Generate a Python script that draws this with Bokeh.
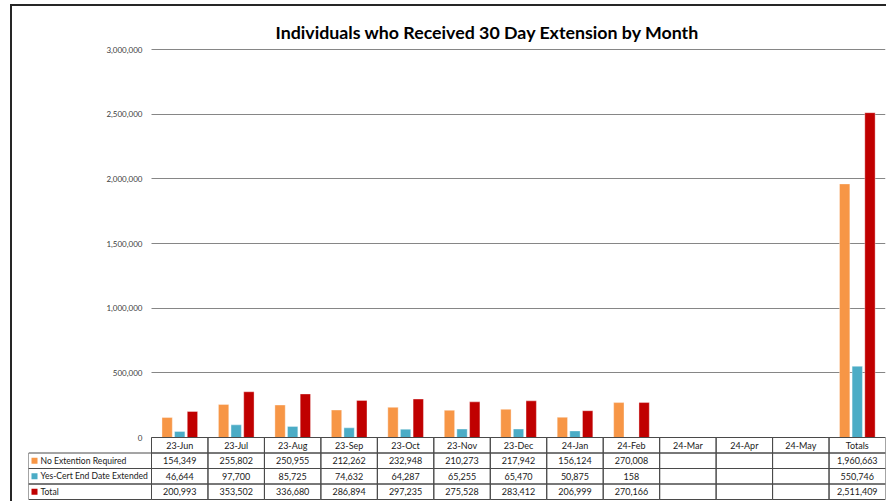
import numpy as np
from bokeh.plotting import figure
from bokeh.models import (Range1d, FixedTicker, NumeralTickFormatter,
                          ColumnDataSource, Column)
from bokeh.transform import dodge
from bokeh.core.properties import value
from bokeh.embed import file_html
from bokeh.resources import INLINE

# ---------------- data ----------------
months = ["23-Jun", "23-Jul", "23-Aug", "23-Sep", "23-Oct", "23-Nov", "23-Dec",
          "24-Jan", "24-Feb", "24-Mar", "24-Apr", "24-May", "Totals"]
no_extension = [154349, 255802, 250955, 212262, 232948, 210273, 217942,
                156124, 270008, None, None, None, 1960663]
yes_cert = [46644, 97700, 85725, 74632, 64287, 65255, 65470,
            50875, 158, None, None, None, 550746]
total = [200993, 353502, 336680, 286894, 297235, 275528, 283412,
         206999, 270166, None, None, None, 2511409]
series_names = ["No Extention Required", "Yes-Cert End Date Extended", "Total"]
series_colors = ["#F79646", "#4BACC6", "#C00000"]
y_ticks = [0, 500000, 1000000, 1500000, 2000000, 2500000, 3000000]
y_max = 3000000
title_text = "Individuals who Received 30 Day Extension by Month"

# ---------------- layout constants (page pixels) ----------------
FONT = "Lato"
LINE = "#4a4a4a"
ORG_X, ORG_Y = 12, 6            # content origin after the outer frame border
FRAME_L, FRAME_R = 28, 885      # plot frame (table incl. legend column)
FRAME_T, FRAME_B = 48, 500
CAT_L = 151                     # first category column left edge
ZERO_Y = 437                    # value 0 / table top
ROW_PX = 15.5                   # table row height
VAL_PX = 388.0 / y_max          # px per unit value

W = 874
H = FRAME_B + 1 - ORG_Y
n = len(months)
UNIT_PX = (FRAME_R - CAT_L) / float(n)
LEG_UNITS = (CAT_L - FRAME_L) / UNIT_PX

y_lo = -(FRAME_B - ZERO_Y) / VAL_PX
y_hi = (ZERO_Y - FRAME_T) / VAL_PX
t_lo = (FRAME_B - ZERO_Y) / ROW_PX      # table row coordinate at frame bottom
t_hi = -(ZERO_Y - FRAME_T) / ROW_PX     # table row coordinate at frame top

p = figure(width=W, height=H,
           x_range=Range1d(-0.5 - LEG_UNITS, n - 0.5),
           y_range=Range1d(y_lo, y_hi),
           output_backend="svg", toolbar_location=None, x_axis_location=None,
           min_border_left=FRAME_L - ORG_X, min_border_right=ORG_X + W - FRAME_R,
           min_border_top=FRAME_T - ORG_Y, min_border_bottom=ORG_Y + H - FRAME_B)
p.extra_y_ranges = {"table": Range1d(start=t_lo, end=t_hi)}
p.outline_line_color = None

# ---------------- bars ----------------
src = ColumnDataSource(dict(
    idx=np.arange(n),
    s0=np.array(no_extension, dtype=float),
    s1=np.array(yes_cert, dtype=float),
    s2=np.array(total, dtype=float),
))
offsets = [-0.223, 0.0, 0.225]
for k in range(3):
    p.vbar(x=dodge("idx", offsets[k]), top="s%d" % k, bottom=0,
           width=0.183, source=src, fill_color=series_colors[k],
           line_color="white", line_width=0.6, line_alpha=0.6)

# ---------------- value axis & grid ----------------
p.yaxis.ticker = FixedTicker(ticks=y_ticks)
p.yaxis.formatter = NumeralTickFormatter(format="0,0")
p.yaxis.axis_line_color = None
p.yaxis.major_tick_line_color = None
p.yaxis.minor_tick_line_color = None
p.yaxis.major_tick_out = 0
p.yaxis.major_tick_in = 0
p.yaxis.major_label_standoff = -(CAT_L - 9 - FRAME_L)
p.yaxis.major_label_text_font = FONT
p.yaxis.major_label_text_font_size = "8px"
p.yaxis.major_label_text_color = "#404040"
p.ygrid.ticker = FixedTicker(ticks=y_ticks)
p.ygrid.grid_line_color = "#868686"
p.ygrid.grid_line_width = 1
p.ygrid.cross_bounds = (-0.5, n - 0.5)
p.xgrid.grid_line_color = None

# ---------------- title ----------------
p.title.text = title_text
p.title.align = "left"
p.title.offset = 275 - FRAME_L
p.title.text_font = FONT
p.title.text_font_style = "bold"
p.title.text_font_size = "17.8px"
p.title.text_color = "#000000"
p.title.standoff = 12

# ---------------- data table ----------------
xs = np.arange(n)
tkw = dict(y_range_name="table")
p.rect(x=xs, y=0.5, width=1, height=1, fill_color=None, line_color=LINE,
       line_width=1, **tkw)
p.text(x=xs, y=0.5, text=months, text_align="center", text_baseline="middle",
       text_font=value(FONT), text_font_size="9px", text_color="#1a1a1a", **tkw)

rows = [no_extension, yes_cert, total]
for r, vals in enumerate(rows):
    yc = r + 1.5
    p.rect(x=xs, y=yc, width=1, height=1, fill_color=None, line_color=LINE,
           line_width=1, **tkw)
    labels = ["" if v is None else "{:,}".format(v) for v in vals]
    p.text(x=xs, y=yc, text=labels, text_align="center", text_baseline="middle",
           text_font=value(FONT), text_font_size="9px", text_color="#1a1a1a", **tkw)
    # legend cell
    p.rect(x=[-0.5 - LEG_UNITS / 2], y=[yc], width=LEG_UNITS, height=1,
           fill_color=None, line_color=LINE, line_width=1, **tkw)
    p.scatter(x=[-0.5 - LEG_UNITS + 6.0 / UNIT_PX], y=[yc], marker="square", size=6,
              fill_color=series_colors[r], line_color=None, **tkw)
    p.text(x=[-0.5 - LEG_UNITS + 12.0 / UNIT_PX], y=[yc], text=[series_names[r]],
           text_align="left", text_baseline="middle",
           text_font=value(FONT), text_font_size="8.6px", text_color="#1a1a1a", **tkw)

layout = Column(children=[p], spacing=0,
                styles={"border-left": "2px solid #262626",
                        "border-top": "2px solid #262626",
                        "margin-left": "10px",
                        "margin-top": "4px"})

open("out.html", "w").write(file_html(layout, INLINE))
